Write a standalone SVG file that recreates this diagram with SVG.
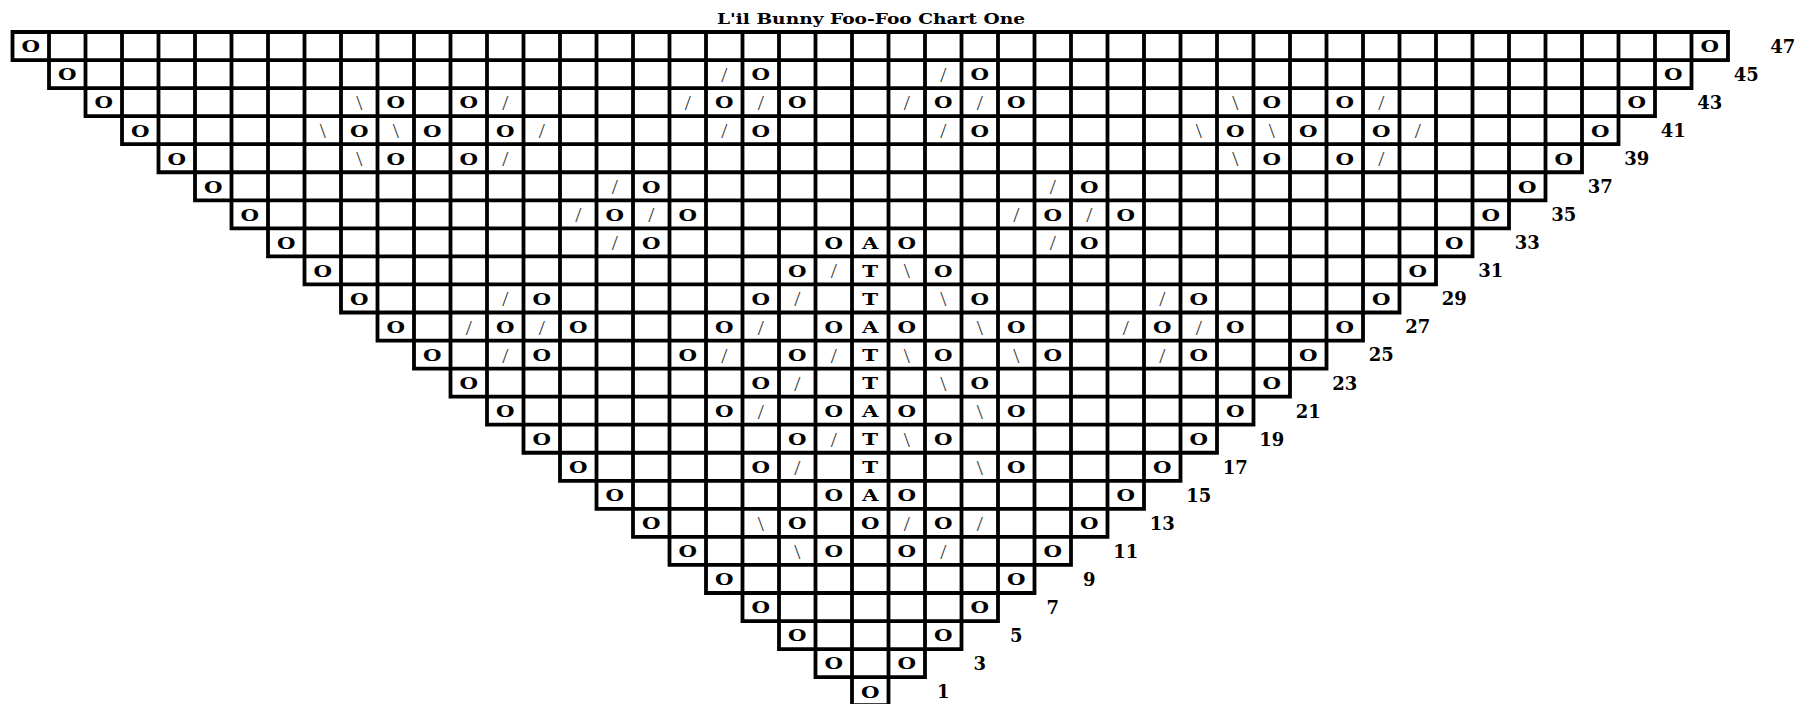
<svg xmlns="http://www.w3.org/2000/svg" width="1796" height="704" viewBox="0 0 1796 704">
<style>
.o{font-family:"DejaVu Serif","Liberation Serif",serif;font-weight:bold;font-size:17px;text-anchor:middle;fill:#000}
.s{font-family:"Liberation Serif",serif;font-size:22px;text-anchor:middle;fill:#333}
.n{font-family:"DejaVu Serif","Liberation Serif",serif;font-weight:bold;font-size:18px;text-anchor:middle;fill:#000}
.title{font-family:"DejaVu Serif","Liberation Serif",serif;font-weight:bold;font-size:15.5px;text-anchor:middle;fill:#000}
.grid{fill:none;stroke:#000;stroke-width:3.8;stroke-linecap:square}
</style>
<rect width="1796" height="704" fill="#fff"/>
<text id="title" class="title" x="871" y="24" textLength="308" lengthAdjust="spacingAndGlyphs">L'il Bunny Foo-Foo Chart One</text>
<g id="grid">
<path class="grid" d="M12.5 32H1728M12.5 60.05H1728M49 88.1H1691.5M85.5 116.15H1655M122 144.2H1618.5M158.5 172.25H1582M195 200.3H1545.5M231.5 228.35H1509M268 256.4H1472.5M304.5 284.45H1436M341 312.5H1399.5M377.5 340.55H1363M414 368.6H1326.5M450.5 396.65H1290M487 424.7H1253.5M523.5 452.75H1217M560 480.8H1180.5M596.5 508.85H1144M633 536.9H1107.5M669.5 564.95H1071M706 593H1034.5M742.5 621.05H998M779 649.1H961.5M815.5 677.15H925M852 705.2H888.5
M12.5 32V60.05M49 32V88.1M85.5 32V116.15M122 32V144.2M158.5 32V172.25M195 32V200.3M231.5 32V228.35M268 32V256.4M304.5 32V284.45M341 32V312.5M377.5 32V340.55M414 32V368.6M450.5 32V396.65M487 32V424.7M523.5 32V452.75M560 32V480.8M596.5 32V508.85M633 32V536.9M669.5 32V564.95M706 32V593M742.5 32V621.05M779 32V649.1M815.5 32V677.15M852 32V705.2M888.5 32V705.2M925 32V677.15M961.5 32V649.1M998 32V621.05M1034.5 32V593M1071 32V564.95M1107.5 32V536.9M1144 32V508.85M1180.5 32V480.8M1217 32V452.75M1253.5 32V424.7M1290 32V396.65M1326.5 32V368.6M1363 32V340.55M1399.5 32V312.5M1436 32V284.45M1472.5 32V256.4M1509 32V228.35M1545.5 32V200.3M1582 32V172.25M1618.5 32V144.2M1655 32V116.15M1691.5 32V88.1M1728 32V60.05"/>
</g>
<g id="row47">
<g transform="scale(1.25 1)"><text class="o" x="24.6" y="52.4">O</text><text class="o" x="1367.8" y="52.4">O</text></g>
<text class="n" x="1782.75" y="52.9">47</text>
</g>
<g id="row45">
<g transform="scale(1.25 1)"><text class="o" x="53.8" y="80.45">O</text><text class="o" x="608.6" y="80.45">O</text><text class="o" x="783.8" y="80.45">O</text><text class="o" x="1338.6" y="80.45">O</text></g>
<text class="s" x="724.25" y="82.05">/</text><text class="s" x="943.25" y="82.05">/</text>
<text class="n" x="1746.25" y="80.95">45</text>
</g>
<g id="row43">
<g transform="scale(1.25 1)"><text class="o" x="83" y="108.5">O</text><text class="o" x="316.6" y="108.5">O</text><text class="o" x="375" y="108.5">O</text><text class="o" x="579.4" y="108.5">O</text><text class="o" x="637.8" y="108.5">O</text><text class="o" x="754.6" y="108.5">O</text><text class="o" x="813" y="108.5">O</text><text class="o" x="1017.4" y="108.5">O</text><text class="o" x="1075.8" y="108.5">O</text><text class="o" x="1309.4" y="108.5">O</text></g>
<text class="s" x="359.25" y="110.1">\</text><text class="s" x="505.25" y="110.1">/</text><text class="s" x="687.75" y="110.1">/</text><text class="s" x="760.75" y="110.1">/</text><text class="s" x="906.75" y="110.1">/</text><text class="s" x="979.75" y="110.1">/</text><text class="s" x="1235.25" y="110.1">\</text><text class="s" x="1381.25" y="110.1">/</text>
<text class="n" x="1709.75" y="109">43</text>
</g>
<g id="row41">
<g transform="scale(1.25 1)"><text class="o" x="112.2" y="136.55">O</text><text class="o" x="287.4" y="136.55">O</text><text class="o" x="345.8" y="136.55">O</text><text class="o" x="404.2" y="136.55">O</text><text class="o" x="608.6" y="136.55">O</text><text class="o" x="783.8" y="136.55">O</text><text class="o" x="988.2" y="136.55">O</text><text class="o" x="1046.6" y="136.55">O</text><text class="o" x="1105" y="136.55">O</text><text class="o" x="1280.2" y="136.55">O</text></g>
<text class="s" x="322.75" y="138.15">\</text><text class="s" x="395.75" y="138.15">\</text><text class="s" x="541.75" y="138.15">/</text><text class="s" x="724.25" y="138.15">/</text><text class="s" x="943.25" y="138.15">/</text><text class="s" x="1198.75" y="138.15">\</text><text class="s" x="1271.75" y="138.15">\</text><text class="s" x="1417.75" y="138.15">/</text>
<text class="n" x="1673.25" y="137.05">41</text>
</g>
<g id="row39">
<g transform="scale(1.25 1)"><text class="o" x="141.4" y="164.6">O</text><text class="o" x="316.6" y="164.6">O</text><text class="o" x="375" y="164.6">O</text><text class="o" x="1017.4" y="164.6">O</text><text class="o" x="1075.8" y="164.6">O</text><text class="o" x="1251" y="164.6">O</text></g>
<text class="s" x="359.25" y="166.2">\</text><text class="s" x="505.25" y="166.2">/</text><text class="s" x="1235.25" y="166.2">\</text><text class="s" x="1381.25" y="166.2">/</text>
<text class="n" x="1636.75" y="165.1">39</text>
</g>
<g id="row37">
<g transform="scale(1.25 1)"><text class="o" x="170.6" y="192.65">O</text><text class="o" x="521" y="192.65">O</text><text class="o" x="871.4" y="192.65">O</text><text class="o" x="1221.8" y="192.65">O</text></g>
<text class="s" x="614.75" y="194.25">/</text><text class="s" x="1052.75" y="194.25">/</text>
<text class="n" x="1600.25" y="193.15">37</text>
</g>
<g id="row35">
<g transform="scale(1.25 1)"><text class="o" x="199.8" y="220.7">O</text><text class="o" x="491.8" y="220.7">O</text><text class="o" x="550.2" y="220.7">O</text><text class="o" x="842.2" y="220.7">O</text><text class="o" x="900.6" y="220.7">O</text><text class="o" x="1192.6" y="220.7">O</text></g>
<text class="s" x="578.25" y="222.3">/</text><text class="s" x="651.25" y="222.3">/</text><text class="s" x="1016.25" y="222.3">/</text><text class="s" x="1089.25" y="222.3">/</text>
<text class="n" x="1563.75" y="221.2">35</text>
</g>
<g id="row33">
<g transform="scale(1.25 1)"><text class="o" x="229" y="248.75">O</text><text class="o" x="521" y="248.75">O</text><text class="o" x="667" y="248.75">O</text><text class="o" x="696.2" y="248.75">A</text><text class="o" x="725.4" y="248.75">O</text><text class="o" x="871.4" y="248.75">O</text><text class="o" x="1163.4" y="248.75">O</text></g>
<text class="s" x="614.75" y="250.35">/</text><text class="s" x="1052.75" y="250.35">/</text>
<text class="n" x="1527.25" y="249.25">33</text>
</g>
<g id="row31">
<g transform="scale(1.25 1)"><text class="o" x="258.2" y="276.8">O</text><text class="o" x="637.8" y="276.8">O</text><text class="o" x="696.2" y="276.8">T</text><text class="o" x="754.6" y="276.8">O</text><text class="o" x="1134.2" y="276.8">O</text></g>
<text class="s" x="833.75" y="278.4">/</text><text class="s" x="906.75" y="278.4">\</text>
<text class="n" x="1490.75" y="277.3">31</text>
</g>
<g id="row29">
<g transform="scale(1.25 1)"><text class="o" x="287.4" y="304.85">O</text><text class="o" x="433.4" y="304.85">O</text><text class="o" x="608.6" y="304.85">O</text><text class="o" x="696.2" y="304.85">T</text><text class="o" x="783.8" y="304.85">O</text><text class="o" x="959" y="304.85">O</text><text class="o" x="1105" y="304.85">O</text></g>
<text class="s" x="505.25" y="306.45">/</text><text class="s" x="797.25" y="306.45">/</text><text class="s" x="943.25" y="306.45">\</text><text class="s" x="1162.25" y="306.45">/</text>
<text class="n" x="1454.25" y="305.35">29</text>
</g>
<g id="row27">
<g transform="scale(1.25 1)"><text class="o" x="316.6" y="332.9">O</text><text class="o" x="404.2" y="332.9">O</text><text class="o" x="462.6" y="332.9">O</text><text class="o" x="579.4" y="332.9">O</text><text class="o" x="667" y="332.9">O</text><text class="o" x="696.2" y="332.9">A</text><text class="o" x="725.4" y="332.9">O</text><text class="o" x="813" y="332.9">O</text><text class="o" x="929.8" y="332.9">O</text><text class="o" x="988.2" y="332.9">O</text><text class="o" x="1075.8" y="332.9">O</text></g>
<text class="s" x="468.75" y="334.5">/</text><text class="s" x="541.75" y="334.5">/</text><text class="s" x="760.75" y="334.5">/</text><text class="s" x="979.75" y="334.5">\</text><text class="s" x="1125.75" y="334.5">/</text><text class="s" x="1198.75" y="334.5">/</text>
<text class="n" x="1417.75" y="333.4">27</text>
</g>
<g id="row25">
<g transform="scale(1.25 1)"><text class="o" x="345.8" y="360.95">O</text><text class="o" x="433.4" y="360.95">O</text><text class="o" x="550.2" y="360.95">O</text><text class="o" x="637.8" y="360.95">O</text><text class="o" x="696.2" y="360.95">T</text><text class="o" x="754.6" y="360.95">O</text><text class="o" x="842.2" y="360.95">O</text><text class="o" x="959" y="360.95">O</text><text class="o" x="1046.6" y="360.95">O</text></g>
<text class="s" x="505.25" y="362.55">/</text><text class="s" x="724.25" y="362.55">/</text><text class="s" x="833.75" y="362.55">/</text><text class="s" x="906.75" y="362.55">\</text><text class="s" x="1016.25" y="362.55">\</text><text class="s" x="1162.25" y="362.55">/</text>
<text class="n" x="1381.25" y="361.45">25</text>
</g>
<g id="row23">
<g transform="scale(1.25 1)"><text class="o" x="375" y="389">O</text><text class="o" x="608.6" y="389">O</text><text class="o" x="696.2" y="389">T</text><text class="o" x="783.8" y="389">O</text><text class="o" x="1017.4" y="389">O</text></g>
<text class="s" x="797.25" y="390.6">/</text><text class="s" x="943.25" y="390.6">\</text>
<text class="n" x="1344.75" y="389.5">23</text>
</g>
<g id="row21">
<g transform="scale(1.25 1)"><text class="o" x="404.2" y="417.05">O</text><text class="o" x="579.4" y="417.05">O</text><text class="o" x="667" y="417.05">O</text><text class="o" x="696.2" y="417.05">A</text><text class="o" x="725.4" y="417.05">O</text><text class="o" x="813" y="417.05">O</text><text class="o" x="988.2" y="417.05">O</text></g>
<text class="s" x="760.75" y="418.65">/</text><text class="s" x="979.75" y="418.65">\</text>
<text class="n" x="1308.25" y="417.55">21</text>
</g>
<g id="row19">
<g transform="scale(1.25 1)"><text class="o" x="433.4" y="445.1">O</text><text class="o" x="637.8" y="445.1">O</text><text class="o" x="696.2" y="445.1">T</text><text class="o" x="754.6" y="445.1">O</text><text class="o" x="959" y="445.1">O</text></g>
<text class="s" x="833.75" y="446.7">/</text><text class="s" x="906.75" y="446.7">\</text>
<text class="n" x="1271.75" y="445.6">19</text>
</g>
<g id="row17">
<g transform="scale(1.25 1)"><text class="o" x="462.6" y="473.15">O</text><text class="o" x="608.6" y="473.15">O</text><text class="o" x="696.2" y="473.15">T</text><text class="o" x="813" y="473.15">O</text><text class="o" x="929.8" y="473.15">O</text></g>
<text class="s" x="797.25" y="474.75">/</text><text class="s" x="979.75" y="474.75">\</text>
<text class="n" x="1235.25" y="473.65">17</text>
</g>
<g id="row15">
<g transform="scale(1.25 1)"><text class="o" x="491.8" y="501.2">O</text><text class="o" x="667" y="501.2">O</text><text class="o" x="696.2" y="501.2">A</text><text class="o" x="725.4" y="501.2">O</text><text class="o" x="900.6" y="501.2">O</text></g>
<text class="n" x="1198.75" y="501.7">15</text>
</g>
<g id="row13">
<g transform="scale(1.25 1)"><text class="o" x="521" y="529.25">O</text><text class="o" x="637.8" y="529.25">O</text><text class="o" x="696.2" y="529.25">O</text><text class="o" x="754.6" y="529.25">O</text><text class="o" x="871.4" y="529.25">O</text></g>
<text class="s" x="760.75" y="530.85">\</text><text class="s" x="906.75" y="530.85">/</text><text class="s" x="979.75" y="530.85">/</text>
<text class="n" x="1162.25" y="529.75">13</text>
</g>
<g id="row11">
<g transform="scale(1.25 1)"><text class="o" x="550.2" y="557.3">O</text><text class="o" x="667" y="557.3">O</text><text class="o" x="725.4" y="557.3">O</text><text class="o" x="842.2" y="557.3">O</text></g>
<text class="s" x="797.25" y="558.9">\</text><text class="s" x="943.25" y="558.9">/</text>
<text class="n" x="1125.75" y="557.8">11</text>
</g>
<g id="row9">
<g transform="scale(1.25 1)"><text class="o" x="579.4" y="585.35">O</text><text class="o" x="813" y="585.35">O</text></g>
<text class="n" x="1089.25" y="585.85">9</text>
</g>
<g id="row7">
<g transform="scale(1.25 1)"><text class="o" x="608.6" y="613.4">O</text><text class="o" x="783.8" y="613.4">O</text></g>
<text class="n" x="1052.75" y="613.9">7</text>
</g>
<g id="row5">
<g transform="scale(1.25 1)"><text class="o" x="637.8" y="641.45">O</text><text class="o" x="754.6" y="641.45">O</text></g>
<text class="n" x="1016.25" y="641.95">5</text>
</g>
<g id="row3">
<g transform="scale(1.25 1)"><text class="o" x="667" y="669.5">O</text><text class="o" x="725.4" y="669.5">O</text></g>
<text class="n" x="979.75" y="670">3</text>
</g>
<g id="row1">
<g transform="scale(1.25 1)"><text class="o" x="696.2" y="697.55">O</text></g>
<text class="n" x="943.25" y="698.05">1</text>
</g>
</svg>
